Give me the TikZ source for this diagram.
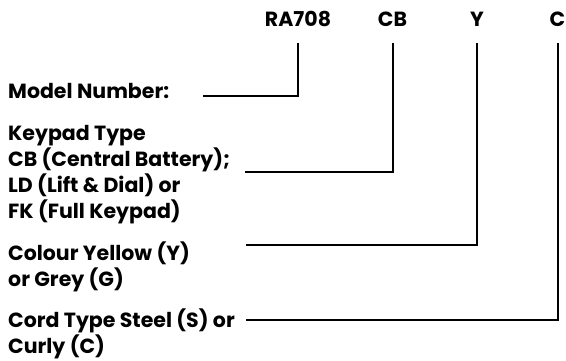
\documentclass[tikz,border=0pt]{standalone}
\usepackage{fontspec}
\setmainfont{Poppins}
\usepackage{tikz}

\tikzset{
  code/.style={anchor=base, inner sep=0pt, font=\fontsize{20.5}{26}\selectfont\bfseries},
  label/.style={anchor=base west, inner sep=0pt, align=left, font=\fontsize{20.5}{26}\selectfont\bfseries},
  lead/.style={draw, line width=2pt, -}
}

\begin{document}
\begin{tikzpicture}[x=1pt,y=-1pt]
\useasboundingbox (0,0) rectangle (566,360);

\node[code] (ra) at (298,26) {RA708};
\node[code] (cb) at (392.5,26) {CB};
\node[code] (y) at (477,26) {Y};
\node[code] (c) at (557.5,26) {C};

% base of a multi-line label is its last line
\node[label] (model) at (8,98) {Model Number:};
\node[label] (keypad) at (8,218) {Keypad Type\\CB (Central Battery);\\LD (Lift \& Dial) or\\FK (Full Keypad)};
\node[label] (colour) at (8,286) {Colour Yellow (Y)\\or Grey (G)};
\node[label] (cord) at (8,353) {Cord Type Steel (S) or\\Curly (C)};

\coordinate (top) at (0,43);
\coordinate (mend) at (203,96);
\coordinate (kend) at (245,172);
\coordinate (yend) at (246,245);
\coordinate (cend) at (246,320);

\path[lead] (ra.south |- top) |- (mend);
\path[lead] (cb.south |- top) |- (kend);
\path[lead] (y.south |- top) |- (yend);
\path[lead] (c.south |- top) |- (cend);
\end{tikzpicture}
\end{document}
